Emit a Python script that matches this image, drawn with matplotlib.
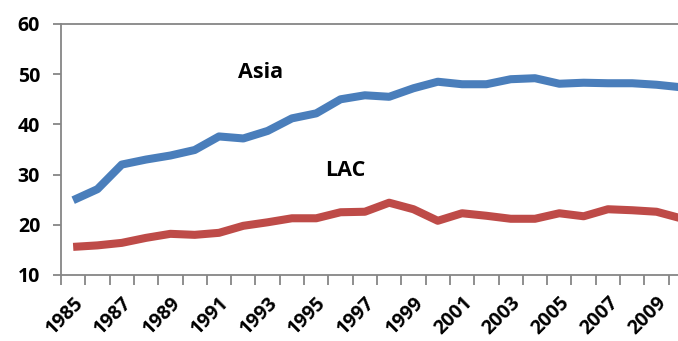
import matplotlib
matplotlib.use("Agg")
import matplotlib.pyplot as plt

years = list(range(1985, 2011))
asia = [24.9, 27.1, 32.0, 33.0, 33.8, 34.9, 37.6, 37.2, 38.7, 41.2, 42.2, 45.0,
        45.8, 45.5, 47.2, 48.5, 48.0, 48.0, 49.0, 49.2, 48.1, 48.3, 48.2, 48.2,
        47.9, 47.4]
lac = [15.6, 15.9, 16.4, 17.4, 18.2, 18.0, 18.4, 19.8, 20.5, 21.3, 21.3, 22.5,
       22.6, 24.4, 23.1, 20.8, 22.3, 21.8, 21.2, 21.2, 22.3, 21.7, 23.1, 22.9,
       22.6, 21.3]
y_ticks = [10, 20, 30, 40, 50, 60]

plt.rcParams['font.family'] = ['Open Sans', 'DejaVu Sans']

fig = plt.figure(figsize=(6.78, 3.41), dpi=100)
ax = fig.add_axes([61 / 678, 1 - 275 / 341, (693 - 61) / 678, (275 - 24) / 341])

x = list(range(len(years)))
ax.plot(x, asia, color='#4A7EBB', lw=5.8, solid_capstyle='butt', solid_joinstyle='round')
ax.plot(x, lac, color='#BE4B48', lw=5.8, solid_capstyle='butt', solid_joinstyle='round')

ax.set_xlim(-0.5, len(years) - 0.5)
ax.set_ylim(10, 60)

grey = '#868686'
for side in ('left', 'bottom', 'top'):
    ax.spines[side].set_color(grey)
    ax.spines[side].set_linewidth(1.3)
ax.spines['right'].set_visible(False)

ax.set_yticks(y_ticks)
ax.set_yticklabels([str(v) for v in y_ticks], fontsize=14, fontweight='bold')
ax.tick_params(axis='y', length=6, width=1.3, color=grey, pad=9)

# tick marks sit between categories, labels on every other year
ax.set_xticks([i - 0.5 for i in range(len(years) + 1)], minor=True)
ax.tick_params(axis='x', which='minor', length=7, width=1.3, color=grey)
label_idx = x[::2]
ax.set_xticks(label_idx)
ax.set_xticklabels([str(years[i]) for i in label_idx], rotation=45, ha='right',
                   va='top', rotation_mode='anchor', fontsize=14, fontweight='bold')
ax.tick_params(axis='x', which='major', length=0, pad=13)

ax.text(7.7, 50.3, 'Asia', fontsize=15.5, fontweight='bold', ha='center', va='center')
ax.text(11.2, 30.8, 'LAC', fontsize=15.5, fontweight='bold', ha='center', va='center')

fig.savefig('out.png', dpi=100)
